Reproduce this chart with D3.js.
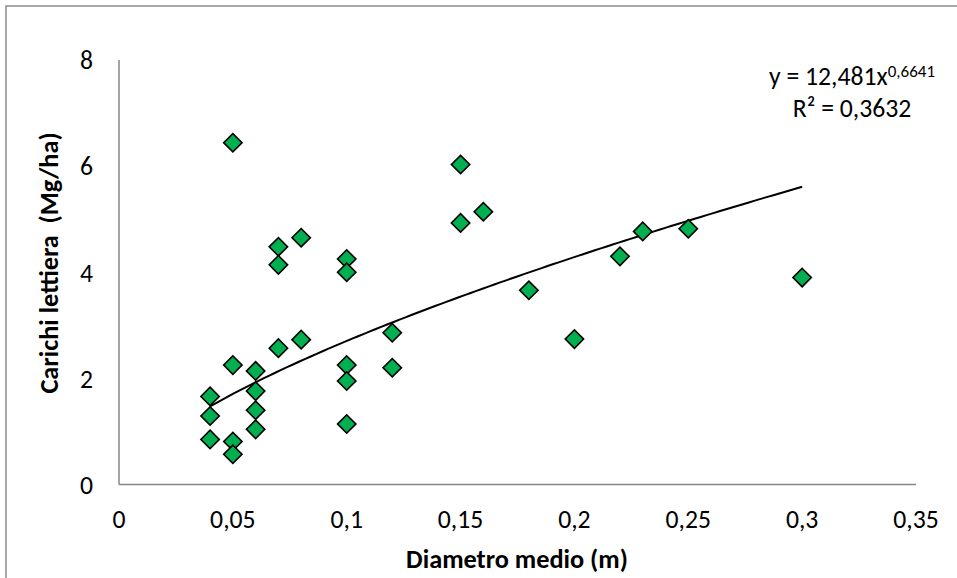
<!DOCTYPE html>
<html>
<head>
<meta charset="utf-8">
<script src="https://cdn.jsdelivr.net/npm/d3@7/dist/d3.min.js"></script>
<style>
  html, body { margin: 0; padding: 0; background: #fff; }
  svg { display: block; }
  text { font-family: Carlito, Lato, "Open Sans", sans-serif; fill: #000; }
</style>
</head>
<body>
<svg id="chart" width="957" height="578"></svg>
<script>
// Mean diameter (m) and litter load (Mg/ha) of each sampled plot
const diametro = [
  0.04, 0.04, 0.04,
  0.05, 0.05, 0.05, 0.05,
  0.06, 0.06, 0.06, 0.06,
  0.07, 0.07, 0.07,
  0.08, 0.08,
  0.10, 0.10, 0.10, 0.10, 0.10,
  0.12, 0.12,
  0.15, 0.15, 0.16, 0.18, 0.20, 0.22, 0.23, 0.25, 0.30
];
const carichi = [
  1.66, 1.29, 0.85,
  6.44, 2.25, 0.81, 0.57,
  2.14, 1.76, 1.40, 1.04,
  4.48, 4.14, 2.57,
  4.65, 2.73,
  4.25, 4.00, 2.25, 1.95, 1.14,
  2.86, 2.20,
  6.03, 4.93, 5.14, 3.66, 2.74, 4.30, 4.77, 4.82, 3.90
];

// Power trend line y = a * x^b fitted to the data
const trendCoeff = 12.481;
const trendExp = 0.6641;
const trendR2 = 0.3632;
const trendRange = [0.04, 0.30];

const xTicks = [0, 0.05, 0.1, 0.15, 0.2, 0.25, 0.3, 0.35];
const yTicks = [0, 2, 4, 6, 8];

const fmt = v => String(v).replace(".", ",");

const svg = d3.select("#chart");
const labelSize = "25.7px";
const titleSize = "26.3px";

// outer chart-area frame
svg.append("rect")
  .attr("x", 6).attr("y", 6)
  .attr("width", 1200).attr("height", 1200)
  .attr("fill", "none")
  .attr("stroke", "#8c8c8c")
  .attr("stroke-width", 1.5);

const x = d3.scaleLinear().domain([0, 0.35]).range([119, 916]);
const y = d3.scaleLinear().domain([0, 8]).range([484.5, 60]);

// axis lines
const axisColor = "#868686";
svg.append("line")
  .attr("x1", x(0)).attr("x2", x(0))
  .attr("y1", y(8)).attr("y2", y(0))
  .attr("stroke", axisColor).attr("stroke-width", 1.5);
svg.append("line")
  .attr("x1", x(0)).attr("x2", x(0.35))
  .attr("y1", y(0)).attr("y2", y(0))
  .attr("stroke", axisColor).attr("stroke-width", 1.5);

// tick labels
svg.append("g").selectAll("text")
  .data(yTicks).join("text")
  .attr("x", 93)
  .attr("y", d => y(d))
  .attr("dy", "0.36em")
  .attr("text-anchor", "end")
  .style("font-size", labelSize)
  .text(d => fmt(d));

svg.append("g").selectAll("text")
  .data(xTicks).join("text")
  .attr("x", d => x(d))
  .attr("y", 519)
  .attr("dy", "0.36em")
  .attr("text-anchor", "middle")
  .style("font-size", labelSize)
  .text(d => fmt(d));

// axis titles
svg.append("text")
  .attr("transform", "translate(49,263) rotate(-90)")
  .attr("text-anchor", "middle")
  .attr("dy", "0.36em")
  .style("font-size", titleSize)
  .style("font-weight", "bold")
  .text("Carichi lettiera \u00a0(Mg/ha)");

svg.append("text")
  .attr("x", 517)
  .attr("y", 559)
  .attr("dy", "0.36em")
  .attr("text-anchor", "middle")
  .style("font-size", titleSize)
  .style("font-weight", "bold")
  .text("Diametro medio (m)");

// trend line
const trendPts = d3.range(0, 101).map(i => {
  const xv = trendRange[0] + (trendRange[1] - trendRange[0]) * i / 100;
  return [xv, trendCoeff * Math.pow(xv, trendExp)];
});
svg.append("path")
  .datum(trendPts)
  .attr("fill", "none")
  .attr("stroke", "#000")
  .attr("stroke-width", 2)
  .attr("d", d3.line().x(d => x(d[0])).y(d => y(d[1])));

// diamond markers
svg.append("g").selectAll("path")
  .data(diametro.map((d, i) => [d, carichi[i]]))
  .join("path")
  .attr("transform", d => `translate(${x(d[0])},${y(d[1])}) rotate(45)`)
  .attr("d", d3.symbol().type(d3.symbolSquare).size(13 * 13))
  .attr("fill", "#00b050")
  .attr("stroke", "#000")
  .attr("stroke-width", 1.6);

// equation and R² label
const eq = svg.append("text")
  .attr("x", 852)
  .attr("y", 85)
  .attr("text-anchor", "middle")
  .style("font-size", labelSize);
eq.append("tspan").text("y = " + fmt(trendCoeff) + "x");
eq.append("tspan")
  .attr("dy", -8)
  .style("font-size", "17px")
  .text(fmt(trendExp));

svg.append("text")
  .attr("x", 852)
  .attr("y", 116.7)
  .attr("text-anchor", "middle")
  .style("font-size", labelSize)
  .text("R² = " + fmt(trendR2));
</script>
</body>
</html>
